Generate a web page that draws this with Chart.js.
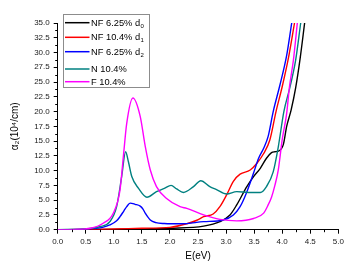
<!DOCTYPE html>
<html><head><meta charset="utf-8">
<script src="https://cdn.jsdelivr.net/npm/chart.js@4/dist/chart.umd.min.js"></script>
<style>html,body{margin:0;padding:0;background:#fff}canvas{display:block}</style>
</head><body>
<canvas id="c" width="354" height="268"></canvas>
<script>
// ---- data ----
const seriesNames = ['NF 6.25% d', 'NF 10.4% d', 'NF 6.25% d', 'N 10.4%', 'F 10.4%'];
const seriesSubs  = ['0', '1', '2', '', ''];
const seriesColors = ['#000000', '#ff0000', '#0000ff', '#008080', '#ff00ff'];

const xTicks = [0, 0.5, 1, 1.5, 2, 2.5, 3, 3.5, 4, 4.5, 5];
const yTicks = [0, 2.5, 5, 7.5, 10, 12.5, 15, 17.5, 20, 22.5, 25, 27.5, 30, 32.5, 35];
const xTitle = 'E(eV)';
const yTitle = 'α₂(10⁴/cm)';

// NF 6.25% d0 (black)
const eBlack = [0, 0.5, 1.0, 1.5, 2.0, 2.6, 2.89, 3.07, 3.19, 3.37, 3.49, 3.61, 3.72, 3.81, 3.87, 3.93, 4.02, 4.08, 4.16, 4.24, 4.32, 4.40];
const aBlack = [0, 0.02, 0.06, 0.12, 0.25, 0.6, 1.36, 2.5, 4.2, 7.3, 9.0, 10.4, 12.1, 13.05, 13.2, 13.3, 14.4, 17.5, 20.3, 24.0, 29.0, 35];
// NF 10.4% d1 (red)
const eRed = [0, 0.5, 1.0, 1.5, 2.0, 2.3, 2.48, 2.6, 2.77, 2.89, 3.01, 3.13, 3.25, 3.43, 3.55, 3.67, 3.78, 3.89, 4.0, 4.11, 4.22];
const aRed = [0, 0.05, 0.12, 0.25, 0.4, 1.0, 1.6, 2.2, 2.66, 3.9, 5.9, 8.2, 9.4, 10.1, 11.25, 12.9, 15.2, 20.0, 24.2, 29.0, 35];
// NF 6.25% d2 (blue)
const eBlue = [0, 0.5, 0.8, 0.93, 1.05, 1.11, 1.18, 1.23, 1.29, 1.38, 1.47, 1.52, 1.56, 1.65, 1.75, 1.9, 2.2, 2.6, 2.95, 3.13, 3.25, 3.37, 3.49, 3.58, 3.67, 3.75, 3.84, 3.96, 4.08, 4.17];
const aBlue = [0, 0.1, 0.4, 0.8, 1.5, 2.2, 3.2, 3.9, 4.5, 4.3, 4.0, 3.5, 2.8, 1.65, 1.2, 1.05, 1.0, 1.36, 1.65, 2.5, 3.9, 6.4, 9.6, 12.1, 13.8, 15.8, 20.0, 24.5, 29.5, 35];
// N 10.4% (teal)
const eTeal = [0, 0.5, 0.75, 0.93, 1.05, 1.14, 1.21, 1.26, 1.32, 1.44, 1.59, 1.76, 1.9, 2.02, 2.12, 2.24, 2.42, 2.55, 2.71, 2.83, 3.01, 3.19, 3.4, 3.61, 3.72, 3.84, 3.93, 4.03, 4.14, 4.24, 4.33];
const aTeal = [0, 0.15, 0.5, 1.36, 3.9, 9.0, 13.2, 11.5, 9.0, 7.0, 5.5, 6.45, 7.0, 7.5, 6.9, 6.3, 7.3, 8.3, 7.3, 6.8, 6.05, 6.45, 6.3, 6.3, 7.3, 9.8, 14.0, 20.0, 24.2, 28.7, 35];
// F 10.4% (magenta)
const eMag = [0, 0.3, 0.58, 0.81, 0.99, 1.11, 1.17, 1.23, 1.34, 1.47, 1.56, 1.65, 1.76, 1.94, 2.18, 2.3, 2.6, 2.89, 3.19, 3.49, 3.67, 3.75, 3.81, 3.87, 3.93, 4.0, 4.08, 4.13, 4.20, 4.27];
const aMag = [0, 0.05, 0.24, 1.1, 2.8, 6.7, 12.4, 18.0, 22.3, 19.2, 14.1, 10.1, 7.3, 5.3, 3.9, 3.6, 2.5, 1.75, 1.5, 1.9, 2.8, 4.2, 5.5, 7.5, 10.1, 15.2, 19.7, 24.2, 28.7, 35];

const seriesE = [eBlack, eRed, eBlue, eTeal, eMag];
const seriesA = [aBlack, aRed, aBlue, aTeal, aMag];
const drawOrder = [4, 3, 2, 1, 0];

const FONT = "'Liberation Sans', Arial, sans-serif";

const datasets = seriesNames.map((n, i) => ({
  label: n + seriesSubs[i],
  data: seriesE[i].map((x, k) => ({x: x, y: seriesA[i][k]})),
  borderColor: seriesColors[i],
  backgroundColor: seriesColors[i],
  borderWidth: 1.4,
  pointRadius: 0,
  cubicInterpolationMode: 'monotone',
  fill: false,
  order: drawOrder[i]
}));

const minorTicks = {
  id: 'minorTicks',
  afterDraw(chart) {
    const ctx = chart.ctx;
    const xs = chart.scales.x, ys = chart.scales.y;
    const ca = chart.chartArea;
    ctx.save();
    ctx.strokeStyle = '#000';
    ctx.lineWidth = 1;
    ctx.beginPath();
    for (let i = 0; i < xTicks.length - 1; i++) {
      const v = (xTicks[i] + xTicks[i + 1]) / 2;
      const px = Math.round(xs.getPixelForValue(v)) + 0.5;
      ctx.moveTo(px, ca.bottom); ctx.lineTo(px, ca.bottom + 2.5);
    }
    for (let i = 0; i < yTicks.length - 1; i++) {
      const v = (yTicks[i] + yTicks[i + 1]) / 2;
      const py = Math.round(ys.getPixelForValue(v)) + 0.5;
      ctx.moveTo(ca.left, py); ctx.lineTo(ca.left - 2.5, py);
    }
    ctx.stroke();
    ctx.restore();
  }
};

const boxLegend = {
  id: 'boxLegend',
  afterDraw(chart) {
    const ctx = chart.ctx;
    ctx.save();
    ctx.fillStyle = '#fff';
    ctx.fillRect(63.5, 14.5, 86, 73);
    ctx.strokeStyle = '#8c8c8c';
    ctx.lineWidth = 1;
    ctx.strokeRect(63.5, 14.5, 86, 73);
    const rows = [22.7, 37.3, 51.7, 69.0, 81.7];
    chart.data.datasets.forEach((ds, i) => {
      const y = rows[i];
      ctx.strokeStyle = ds.borderColor;
      ctx.lineWidth = 1.5;
      ctx.beginPath();
      ctx.moveTo(65, y); ctx.lineTo(89.5, y);
      ctx.stroke();
      ctx.fillStyle = '#000';
      ctx.textBaseline = 'middle';
      ctx.textAlign = 'left';
      ctx.font = '9.3px ' + FONT;
      ctx.fillText(seriesNames[i], 91, y + 0.5);
      if (seriesSubs[i]) {
        const w = ctx.measureText(seriesNames[i]).width;
        ctx.font = '6px ' + FONT;
        ctx.fillText(seriesSubs[i], 91 + w + 0.3, y + 3.5);
      }
    });
    ctx.restore();
  }
};

new Chart(document.getElementById('c'), {
  type: 'line',
  data: { datasets: datasets },
  options: {
    responsive: false,
    animation: false,
    devicePixelRatio: 1,
    layout: { padding: { top: 23, right: 15.7, bottom: 0, left: 0 } },
    plugins: { legend: { display: false }, tooltip: { enabled: false } },
    scales: {
      x: {
        type: 'linear', min: 0, max: 5,
        afterBuildTicks: s => { s.ticks = xTicks.map(v => ({value: v})); },
        afterFit: s => { s.height = 38.3; },
        grid: { display: true, drawOnChartArea: false, drawTicks: true, tickLength: 4, color: '#000', lineWidth: 1 },
        border: { display: true, color: '#000', width: 1 },
        ticks: { color: '#1a1a1a', font: { family: FONT, size: 8 }, padding: 3, maxRotation: 0, autoSkip: false,
                 callback: v => Number(v).toFixed(1) },
        title: { display: true, text: xTitle, color: '#000', font: { family: FONT, size: 10 }, padding: { top: 0, bottom: 6 } }
      },
      y: {
        type: 'linear', min: 0, max: 35,
        afterBuildTicks: s => { s.ticks = yTicks.map(v => ({value: v})); },
        afterFit: s => { s.width = 57.7; },
        grid: { display: true, drawOnChartArea: false, drawTicks: true, tickLength: 4, color: '#000', lineWidth: 1 },
        border: { display: true, color: '#000', width: 1 },
        ticks: { color: '#1a1a1a', font: { family: FONT, size: 8 }, padding: 4, autoSkip: false,
                 callback: v => Number(v).toFixed(1) },
        title: { display: true, text: yTitle, color: '#000', font: { family: FONT, size: 10 }, padding: { top: 9, bottom: 0 } }
      }
    }
  },
  plugins: [minorTicks, boxLegend]
});
</script>
</body></html>
